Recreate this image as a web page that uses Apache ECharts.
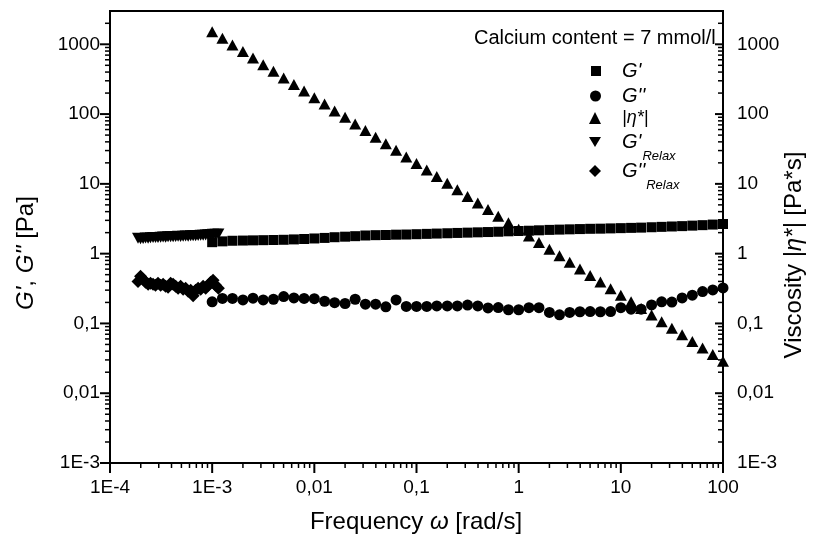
<!DOCTYPE html>
<html>
<head>
<meta charset="utf-8">
<script src="https://cdn.jsdelivr.net/npm/echarts@6/dist/echarts.min.js"></script>
<style>
  html, body { margin: 0; padding: 0; background: #fff; }
  #chart { width: 820px; height: 537px; }
</style>
</head>
<body>
<div id="chart"></div>
<script>
// Oscillatory frequency sweep, 10 points per decade [rad/s]
const sweepFreq = [
  0.001, 0.00126, 0.00158, 0.002, 0.00251, 0.00316, 0.00398, 0.00501, 0.00631, 0.00794,
  0.01, 0.0126, 0.0158, 0.02, 0.0251, 0.0316, 0.0398, 0.0501, 0.0631, 0.0794,
  0.1, 0.126, 0.158, 0.2, 0.251, 0.316, 0.398, 0.501, 0.631, 0.794,
  1, 1.26, 1.58, 2, 2.51, 3.16, 3.98, 5.01, 6.31, 7.94,
  10, 12.6, 15.8, 20, 25.1, 31.6, 39.8, 50.1, 63.1, 79.4,
  100
];
// Storage modulus G' [Pa]
const gStorage = [
  1.46, 1.50, 1.53, 1.54, 1.55, 1.56, 1.57, 1.58, 1.60, 1.62,
  1.65, 1.68, 1.72, 1.75, 1.78, 1.82, 1.84, 1.85, 1.87, 1.88,
  1.90, 1.92, 1.94, 1.96, 1.98, 2.00, 2.02, 2.04, 2.06, 2.09,
  2.11, 2.13, 2.16, 2.19, 2.21, 2.23, 2.25, 2.27, 2.28, 2.30,
  2.32, 2.34, 2.36, 2.39, 2.42, 2.45, 2.48, 2.52, 2.56, 2.61,
  2.66
];
// Loss modulus G'' [Pa]
const gLoss = [
  0.204, 0.228, 0.228, 0.217, 0.230, 0.217, 0.222, 0.243, 0.232, 0.228,
  0.226, 0.208, 0.198, 0.193, 0.222, 0.189, 0.189, 0.173, 0.217, 0.175,
  0.175, 0.175, 0.178, 0.178, 0.178, 0.183, 0.178, 0.167, 0.169, 0.157,
  0.157, 0.168, 0.168, 0.144, 0.133, 0.144, 0.147, 0.148, 0.147, 0.148,
  0.168, 0.160, 0.160, 0.184, 0.204, 0.202, 0.232, 0.254, 0.286, 0.302,
  0.323
];
// Complex viscosity |eta*| [Pa*s]
const etaComplex = [
  1514, 1218, 980, 788, 634, 510, 411, 330, 266, 214,
  172, 139, 111, 89.7, 72.2, 58.1, 46.7, 37.6, 30.3, 24.3,
  19.6, 15.8, 12.7, 10.2, 8.21, 6.61, 5.32, 4.28, 3.44, 2.77,
  2.23, 1.79, 1.44, 1.16, 0.934, 0.752, 0.605, 0.487, 0.392, 0.315,
  0.254, 0.204, 0.164, 0.132, 0.106, 0.0855, 0.0688, 0.0553, 0.0446, 0.0358,
  0.0288
];

// Moduli obtained from the stress relaxation test
const relaxFreq = [
  1.88e-4, 1.99e-4, 2.11e-4, 2.23e-4, 2.36e-4, 2.49e-4, 2.64e-4, 2.79e-4, 2.95e-4, 3.13e-4,
  3.31e-4, 3.50e-4, 3.70e-4, 3.92e-4, 4.15e-4, 4.39e-4, 4.64e-4, 4.91e-4, 5.20e-4, 5.50e-4,
  5.82e-4, 6.16e-4, 6.51e-4, 6.89e-4, 7.29e-4, 7.72e-4, 8.16e-4, 8.64e-4, 9.14e-4, 9.67e-4,
  1.02e-3, 1.08e-3, 1.15e-3
];
const gStorageRelax = [
  1.66, 1.63, 1.65, 1.67, 1.66, 1.69, 1.70, 1.71, 1.70, 1.72,
  1.73, 1.72, 1.74, 1.75, 1.74, 1.76, 1.77, 1.76, 1.78, 1.79,
  1.78, 1.80, 1.81, 1.80, 1.82, 1.84, 1.83, 1.85, 1.86, 1.88,
  1.90, 1.89, 1.92
];
const gLossRelax = [
  0.40, 0.474, 0.43, 0.39, 0.364, 0.376, 0.364, 0.352, 0.376, 0.352,
  0.364, 0.341, 0.330, 0.376, 0.364, 0.341, 0.319, 0.341, 0.309, 0.319,
  0.289, 0.299, 0.25, 0.299, 0.319, 0.309, 0.341, 0.319, 0.352, 0.389,
  0.415, 0.352, 0.319
];

// Axis ranges and tick labels (one label per decade)
const X_MIN = 1e-4, X_MAX = 100;
const Y_MIN = 1e-3, Y_MAX = 3000;
const xTickLabels = ['1E-4', '1E-3', '0,01', '0,1', '1', '10', '100'];   // 10^-4 .. 10^2
const yTickLabels = ['1E-3', '0,01', '0,1', '1', '10', '100', '1000'];   // 10^-3 .. 10^3
const xMajorTicks = [1e-4, 1e-3, 0.01, 0.1, 1, 10, 100];
const yMajorTicks = [1e-3, 0.01, 0.1, 1, 10, 100, 1000];

const FONT = "'Liberation Sans', Arial, Helvetica, sans-serif";

function minorTicks(majors, upper) {
  const out = [];
  majors.forEach(d => {
    for (let m = 2; m <= 9; m++) {
      const v = d * m;
      if (v < upper * 0.999) out.push(v);
    }
  });
  return out;
}
const xMinorTicks = minorTicks(xMajorTicks, X_MAX);
const yMinorTicks = minorTicks(yMajorTicks, Y_MAX);

function decadeLabel(labels, firstExp) {
  return function (v) {
    const e = Math.log10(v);
    const r = Math.round(e);
    if (Math.abs(e - r) > 1e-6) return '';
    const s = labels[r - firstExp];
    return s === undefined ? '' : s;
  };
}

// Tick marks drawn through the axis scales: bottom/left outward, right inward
function tickSeries(values, side, len, width) {
  const data = values.map(v =>
    side === 'bottom' ? [v, Y_MIN] : [side === 'left' ? X_MIN : X_MAX, v]);
  return {
    type: 'custom',
    silent: true,
    clip: false,
    z: 6,
    xAxisIndex: 0,
    yAxisIndex: side === 'right' ? 1 : 0,
    data: data,
    renderItem: function (params, api) {
      const p = api.coord([api.value(0), api.value(1)]);
      const dx = side === 'bottom' ? 0 : -len;
      const dy = side === 'bottom' ? len : 0;
      return {
        type: 'line',
        shape: { x1: p[0], y1: p[1], x2: p[0] + dx, y2: p[1] + dy },
        style: { stroke: '#000', lineWidth: width }
      };
    }
  };
}

const pairs = (xs, ys) => xs.map((x, i) => [x, ys[i]]);

const legendText = {
  "G'": "{g|G'}",
  "G''": "{g|G''}",
  "|η*|": "{e||η*|}",
  "G'_Relax": "{g|G'}{s|Relax}",
  "G''_Relax": "{g|G''}{s|Relax}"
};
const legendRich = {
  g: { fontSize: 20, lineHeight: 20, fontStyle: 'italic', fontFamily: FONT, color: '#000',
       padding: [0, 0, 0, 16], verticalAlign: 'middle' },
  e: { fontSize: 18, lineHeight: 18, fontStyle: 'italic', fontFamily: FONT, color: '#000',
       padding: [0, 0, 0, 16], verticalAlign: 'middle' },
  s: { fontSize: 13, lineHeight: 14, fontStyle: 'italic', fontFamily: FONT, color: '#000',
       padding: [18, 0, 0, 1], verticalAlign: 'top' }
};
function legendAt(name, size, top) {
  return {
    data: [name],
    left: 601 - size,
    top: top,
    itemWidth: size,
    itemHeight: size,
    padding: 0,
    selectedMode: false,
    formatter: n => legendText[n],
    textStyle: { fontFamily: FONT, color: '#000', rich: legendRich }
  };
}

const axisLabelStyle = { color: '#000', fontSize: 19, fontFamily: FONT };
const markStyle = { color: '#000', opacity: 1 };

const chart = echarts.init(document.getElementById('chart'), null, { renderer: 'canvas' });
chart.setOption({
  animation: false,
  backgroundColor: '#fff',
  title: {
    text: 'Calcium content = 7 mmol/l',
    left: 474,
    top: 28,
    padding: 0,
    textStyle: { fontSize: 20, fontWeight: 'normal', fontFamily: FONT, color: '#000' }
  },
  legend: [
    legendAt("G'", 10, 61),
    legendAt("G''", 11, 86),
    legendAt("|η*|", 12, 109),
    legendAt("G'_Relax", 12, 132),
    legendAt("G''_Relax", 12, 161)
  ],
  grid: {
    left: 110, top: 11, width: 613, height: 452,
    show: true, borderColor: '#000', borderWidth: 2, backgroundColor: 'transparent',
    containLabel: false, outerBoundsMode: 'none'
  },
  xAxis: {
    type: 'log', logBase: 10, min: X_MIN, max: X_MAX,
    axisLine: { lineStyle: { color: '#000', width: 2 } },
    axisTick: { show: false },
    splitLine: { show: false },
    axisLabel: Object.assign({ margin: 15, formatter: decadeLabel(xTickLabels, -4) }, axisLabelStyle)
  },
  yAxis: [
    {
      type: 'log', logBase: 10, min: Y_MIN, max: Y_MAX, position: 'left',
      axisLine: { lineStyle: { color: '#000', width: 2 } },
      axisTick: { show: false },
      splitLine: { show: false },
      axisLabel: Object.assign({ margin: 10, formatter: decadeLabel(yTickLabels, -3) }, axisLabelStyle)
    },
    {
      type: 'log', logBase: 10, min: Y_MIN, max: Y_MAX, position: 'right',
      axisLine: { show: true, lineStyle: { color: '#000', width: 2 } },
      axisTick: { show: false },
      splitLine: { show: false },
      axisLabel: Object.assign({ margin: 14, formatter: decadeLabel(yTickLabels, -3) }, axisLabelStyle)
    }
  ],
  graphic: [
    {
      type: 'text', x: 26, y: 253, rotation: Math.PI / 2,
      style: {
        text: "{i|G'}, {i|G''} [Pa]",
        fontSize: 24, fontFamily: FONT, fill: '#000', align: 'center', verticalAlign: 'middle',
        rich: { i: { fontSize: 24, fontFamily: FONT, fontStyle: 'italic', fill: '#000' } }
      }
    },
    {
      type: 'text', x: 794, y: 255, rotation: Math.PI / 2,
      style: {
        text: 'Viscosity {i||η*|} [Pa*s]',
        fontSize: 24, fontFamily: FONT, fill: '#000', align: 'center', verticalAlign: 'middle',
        rich: { i: { fontSize: 24, fontFamily: FONT, fontStyle: 'italic', fill: '#000' } }
      }
    },
    {
      type: 'text', x: 416, y: 522,
      style: {
        text: 'Frequency {i|ω} [rad/s]',
        fontSize: 24, fontFamily: FONT, fill: '#000', align: 'center', verticalAlign: 'middle',
        rich: { i: { fontSize: 24, fontFamily: FONT, fontStyle: 'italic', fill: '#000' } }
      }
    }
  ],
  series: [
    {
      name: "G'", type: 'scatter', xAxisIndex: 0, yAxisIndex: 0, clip: false,
      data: pairs(sweepFreq, gStorage),
      symbol: 'rect', symbolSize: 10, itemStyle: markStyle
    },
    {
      name: "G''", type: 'scatter', xAxisIndex: 0, yAxisIndex: 0, clip: false,
      data: pairs(sweepFreq, gLoss),
      symbol: 'circle', symbolSize: 11, itemStyle: markStyle
    },
    {
      name: "|η*|", type: 'scatter', xAxisIndex: 0, yAxisIndex: 1, clip: false,
      data: pairs(sweepFreq, etaComplex),
      symbol: 'triangle', symbolSize: [12, 11], itemStyle: markStyle
    },
    {
      name: "G'_Relax", type: 'scatter', xAxisIndex: 0, yAxisIndex: 0, clip: false,
      data: pairs(relaxFreq, gStorageRelax),
      symbol: 'path://M0,0L12,0L6,10Z', symbolSize: [12, 11], itemStyle: markStyle
    },
    {
      name: "G''_Relax", type: 'scatter', xAxisIndex: 0, yAxisIndex: 0, clip: false,
      data: pairs(relaxFreq, gLossRelax),
      symbol: 'diamond', symbolSize: 13, itemStyle: markStyle
    },
    tickSeries(xMajorTicks, 'bottom', 10, 2),
    tickSeries(xMinorTicks, 'bottom', 5, 1.5),
    tickSeries(yMajorTicks, 'left', 10, 2),
    tickSeries(yMinorTicks, 'left', 5, 1.5),
    tickSeries(yMajorTicks, 'right', 8, 2),
    tickSeries(yMinorTicks, 'right', 5, 1.5)
  ]
});
</script>
</body>
</html>
